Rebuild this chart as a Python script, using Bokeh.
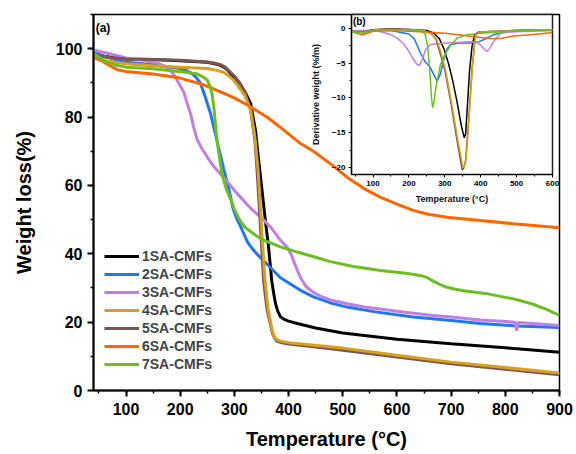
from bokeh.plotting import figure
from bokeh.models import Range1d, FixedTicker, Legend, LegendItem, Label
from bokeh.layouts import column
from bokeh.embed import file_html
from bokeh.resources import INLINE

FONT = "Liberation Sans"

labels = ["1SA-CMFs", "2SA-CMFs", "3SA-CMFs", "4SA-CMFs", "5SA-CMFs", "6SA-CMFs", "7SA-CMFs"]
colors = ["#000000", "#2277EE", "#BF7FE8", "#D6A21E", "#7E5555", "#FF6600", "#6BBF1F"]

# ---- main TGA curves: temperature (°C), weight (%) ----
t1 = [40, 60, 80, 100, 150, 200, 250, 270, 280, 287, 293, 300, 310, 320, 330, 339, 345, 351, 357, 363, 369, 373, 376, 380, 385, 392, 400, 416, 450, 500, 600, 700, 800, 900]
w1 = [98.5, 97.8, 97.3, 97.0, 96.8, 96.5, 96.0, 95.4, 94.7, 93.8, 92.7, 91.5, 89.8, 87.2, 84.0, 76.0, 67.0, 58.5, 50.0, 42.0, 32.0, 28.0, 25.4, 23.2, 21.6, 20.8, 20.3, 19.6, 18.3, 16.8, 15.0, 13.7, 12.5, 11.2]

t2 = [40, 60, 80, 100, 150, 200, 212, 222, 230, 237, 246, 256, 268, 280, 289, 298, 305, 310, 317, 324, 332, 340, 360, 385, 422, 446, 480, 508, 560, 630, 700, 754, 820, 900]
w2 = [99.0, 97.8, 96.8, 96.0, 95.3, 94.2, 93.6, 92.7, 91.5, 90.0, 86.0, 81.0, 73.0, 65.0, 59.5, 53.0, 50.0, 48.5, 46.0, 43.5, 41.7, 40.2, 37.0, 33.0, 29.3, 27.4, 25.5, 24.4, 23.0, 21.5, 20.5, 19.6, 18.9, 18.4]

t3 = [40, 70, 100, 130, 158, 172, 182, 190, 197, 206, 213, 219, 225, 231, 240, 250, 262, 274, 290, 305, 330, 350, 367, 385, 397, 405, 412, 422, 432, 440, 450, 460, 477, 508, 540, 600, 662, 700, 754, 818, 821, 824, 900]
w3 = [99.6, 98.5, 97.3, 96.6, 95.8, 94.8, 93.6, 92.0, 90.0, 87.5, 84.0, 81.0, 77.0, 73.5, 70.8, 68.3, 65.5, 63.4, 60.5, 57.6, 53.3, 50.5, 47.8, 44.0, 42.0, 39.8, 36.8, 33.0, 30.5, 29.4, 28.3, 27.5, 26.5, 25.4, 24.4, 23.2, 22.0, 21.5, 20.6, 20.0, 17.5, 19.9, 19.0]

t4 = [40, 60, 100, 150, 200, 250, 270, 282, 290, 298, 305, 312, 320, 330, 338, 344, 350, 356, 362, 368, 371, 374, 378, 382, 390, 400, 500, 600, 700, 800, 900]
w4 = [97.5, 96.5, 95.6, 95.0, 94.6, 94.2, 93.6, 92.9, 92.0, 90.9, 89.5, 87.9, 86.0, 82.0, 74.0, 64.0, 48.0, 33.0, 24.0, 19.0, 16.8, 15.6, 15.0, 14.6, 14.3, 14.0, 12.4, 10.3, 8.3, 6.7, 5.1]

t5 = [40, 60, 100, 150, 200, 250, 262, 275, 283, 290, 300, 310, 320, 330, 338, 342, 348, 354, 360, 366, 369, 372, 376, 380, 390, 400, 450, 500, 600, 700, 800, 900]
w5 = [98.3, 97.6, 97.0, 96.8, 96.6, 96.1, 95.8, 95.3, 94.6, 93.5, 92.0, 90.0, 87.0, 82.0, 73.0, 64.0, 48.0, 32.0, 24.0, 19.6, 17.5, 16.0, 14.9, 14.3, 13.9, 13.6, 12.7, 11.8, 9.8, 7.8, 6.2, 4.6]

t6 = [40, 55, 70, 85, 100, 150, 200, 240, 280, 300, 330, 360, 385, 420, 446, 480, 508, 540, 570, 600, 630, 660, 693, 754, 815, 900]
w6 = [97.5, 96.5, 95.0, 93.8, 93.3, 92.6, 91.4, 89.6, 87.0, 85.6, 83.0, 80.0, 77.0, 72.5, 70.0, 66.0, 62.4, 59.0, 56.5, 54.5, 52.7, 51.5, 50.7, 49.7, 48.8, 47.6]

t7 = [40, 60, 80, 100, 150, 206, 230, 243, 250, 256, 259, 262, 265, 268, 277, 285, 293, 300, 311, 320, 330, 340, 354, 385, 416, 450, 477, 520, 570, 620, 645, 656, 667, 680, 692, 708, 723, 770, 815, 850, 875, 900]
w7 = [98.5, 96.5, 95.2, 94.6, 94.1, 93.2, 92.7, 91.7, 90.8, 88.7, 86.5, 83.0, 78.0, 73.0, 63.4, 59.0, 56.0, 53.0, 49.5, 47.7, 46.5, 45.3, 44.0, 42.0, 40.5, 39.0, 37.7, 36.3, 35.1, 34.2, 33.6, 33.0, 32.0, 31.0, 30.2, 29.6, 29.2, 28.2, 26.8, 25.3, 23.8, 22.0]

# ---- inset DTG curves: temperature (°C), derivative weight (%/min) ----
dt1 = [40, 60, 80, 100, 150, 200, 250, 270, 285, 298, 310, 322, 335, 346, 354, 358, 363, 369, 376, 383, 395, 450, 500, 600]
dw1 = [-0.4, -0.5, -0.4, -0.2, -0.1, -0.15, -0.3, -0.7, -1.5, -3.0, -5.0, -7.5, -10.8, -14.0, -15.7, -15.2, -11.0, -6.0, -2.5, -0.9, -0.5, -0.4, -0.3, -0.2]

dt2 = [40, 80, 100, 150, 200, 215, 232, 245, 258, 268, 279, 288, 297, 306, 316, 340, 370, 390, 410, 436, 470, 520, 600]
dw2 = [-0.4, -0.4, -0.3, -0.3, -0.8, -1.5, -3.5, -4.8, -5.5, -6.5, -7.6, -6.5, -4.5, -3.0, -2.3, -2.1, -2.1, -2.0, -1.6, -0.9, -0.5, -0.35, -0.25]

dt3 = [40, 80, 110, 130, 150, 167, 185, 200, 212, 223, 230, 237, 247, 260, 306, 371, 390, 400, 410, 418, 426, 436, 455, 480, 600]
dw3 = [-0.3, -0.3, -0.35, -0.6, -0.9, -1.4, -2.2, -3.3, -4.4, -5.2, -5.3, -4.4, -3.0, -2.3, -2.1, -1.9, -2.0, -2.4, -3.0, -3.3, -2.8, -1.9, -0.7, -0.5, -0.3]

dt4 = [40, 60, 80, 100, 150, 200, 240, 260, 277, 290, 302, 318, 336, 350, 354, 360, 368, 377, 386, 395, 450, 500, 600]
dw4 = [-0.5, -0.6, -0.5, -0.3, -0.2, -0.2, -0.3, -0.7, -1.5, -3.6, -6.0, -10.4, -16.0, -19.8, -20.0, -18.5, -12.5, -5.5, -1.0, -0.5, -0.4, -0.3, -0.2]

dt5 = [40, 60, 80, 100, 150, 200, 240, 260, 275, 288, 300, 316, 334, 348, 352, 358, 367, 376, 385, 395, 450, 500, 600]
dw5 = [-0.4, -0.5, -0.4, -0.2, -0.1, -0.15, -0.3, -0.7, -1.5, -3.8, -6.0, -10.4, -16.1, -20.3, -20.2, -19.0, -12.8, -5.7, -1.0, -0.5, -0.4, -0.3, -0.2]

dt6 = [40, 55, 70, 85, 100, 150, 200, 250, 300, 350, 400, 436, 460, 491, 540, 600]
dw6 = [-0.5, -0.7, -0.9, -0.7, -0.4, -0.3, -0.4, -0.5, -0.7, -1.0, -1.3, -1.5, -1.4, -1.1, -0.9, -0.6]

dt7 = [40, 60, 75, 90, 110, 200, 230, 245, 252, 258, 263, 266, 270, 276, 288, 300, 315, 334, 362, 400, 450, 500, 600]
dw7 = [-0.5, -0.6, -0.7, -0.4, -0.2, -0.2, -0.3, -0.8, -2.5, -6.0, -10.0, -11.4, -10.5, -8.2, -5.2, -3.8, -2.5, -1.4, -0.9, -0.7, -0.5, -0.35, -0.2]

main_x_ticks = [100, 200, 300, 400, 500, 600, 700, 800, 900]
main_y_ticks = [0, 20, 40, 60, 80, 100]
inset_x_ticks = [100, 200, 300, 400, 500, 600]
inset_y_ticks = [0, -5, -10, -15, -20]

T = [t1, t2, t3, t4, t5, t6, t7]
W = [w1, w2, w3, w4, w5, w6, w7]
DT = [dt1, dt2, dt3, dt4, dt5, dt6, dt7]
DW = [dw1, dw2, dw3, dw4, dw5, dw6, dw7]

# ---------------- main figure ----------------
p = figure(width=576, height=454, output_backend="svg", toolbar_location=None,
           x_range=Range1d(40, 900), y_range=Range1d(0, 110),
           min_border_left=93, min_border_right=17, min_border_top=14, min_border_bottom=64)
p.xgrid.visible = False
p.ygrid.visible = False
p.outline_line_color = "black"
p.outline_line_width = 1.5
p.outline_line_alpha = 1

p.xaxis.ticker = FixedTicker(ticks=main_x_ticks, minor_ticks=list(range(50, 901, 50)))
p.yaxis.ticker = FixedTicker(ticks=main_y_ticks, minor_ticks=list(range(10, 111, 10)))
for ax in (p.xaxis[0], p.yaxis[0]):
    ax.axis_line_width = 2
    ax.major_tick_line_width = 2
    ax.minor_tick_line_width = 1.5
    ax.major_tick_in = 0
    ax.major_tick_out = 6
    ax.minor_tick_in = 0
    ax.minor_tick_out = 3
    ax.major_label_text_font = FONT
    ax.major_label_text_font_style = "bold"
    ax.major_label_text_font_size = "16px"
    ax.major_label_text_color = "black"
    ax.axis_label_text_font = FONT
    ax.axis_label_text_font_style = "bold"
    ax.axis_label_text_font_size = "20px"
    ax.axis_label_text_color = "black"
p.xaxis.axis_label = "Temperature (°C)"
p.yaxis.axis_label = "Weight loss(%)"
p.xaxis.major_label_standoff = 6
p.xaxis.axis_label_standoff = 10
p.yaxis.major_label_standoff = 5
p.yaxis.axis_label_standoff = 18

draw_order = [0, 1, 2, 4, 3, 5, 6]
rends = {}
for i in draw_order:
    rends[i] = p.line(T[i], W[i], line_color=colors[i], line_width=3)

legend = Legend(items=[LegendItem(label=labels[i], renderers=[rends[i]]) for i in range(7)],
                location=(6, 12), glyph_width=35, glyph_height=18, label_height=18,
                label_standoff=3, spacing=0, padding=5, margin=0,
                label_text_font=FONT, label_text_font_style="bold", label_text_font_size="14px",
                border_line_alpha=0, background_fill_alpha=1)
p.add_layout(legend)

p.add_layout(Label(x=44, y=106, text="(a)", text_font=FONT, text_font_style="bold",
                   text_font_size="12px", text_baseline="middle", text_color="black"))

# ---------------- inset figure (overlaid via negative top margin) ----------------
# note: the column aligns frame borders (left -> 93, right -> 17)
q = figure(width=311, height=212, output_backend="svg", toolbar_location=None,
           x_range=Range1d(40, 600), y_range=Range1d(-21, 2),
           min_border_left=51, min_border_right=10, min_border_top=14, min_border_bottom=38)
q.border_fill_alpha = 0
q.background_fill_color = "white"
q.xgrid.visible = False
q.ygrid.visible = False
q.outline_line_color = "#222222"
q.outline_line_width = 1.5
q.outline_line_alpha = 1
q.xaxis.ticker = FixedTicker(ticks=inset_x_ticks, minor_ticks=list(range(50, 601, 50)))
q.yaxis.ticker = FixedTicker(ticks=inset_y_ticks, minor_ticks=[-20, -17.5, -15, -12.5, -10, -7.5, -5, -2.5, 0])
for ax in (q.xaxis[0], q.yaxis[0]):
    ax.axis_line_width = 1.2
    ax.major_tick_in = 0
    ax.major_tick_out = 3
    ax.minor_tick_in = 0
    ax.minor_tick_out = 2
    ax.major_label_text_font = FONT
    ax.major_label_text_font_style = "bold"
    ax.major_label_text_font_size = "8px"
    ax.major_label_text_color = "black"
    ax.axis_label_text_font = FONT
    ax.axis_label_text_font_style = "bold"
    ax.axis_label_text_font_size = "9px"
    ax.axis_label_text_color = "#111111"
q.xaxis.axis_label = "Temperature (°C)"
q.yaxis.axis_label = "Derivative weight (%/m)"
q.xaxis.major_label_standoff = 3
q.xaxis.axis_label_standoff = 5
q.yaxis.major_label_standoff = 3
q.yaxis.axis_label_standoff = 8

for i in draw_order:
    q.line(DT[i], DW[i], line_color=colors[i], line_width=1.5)

q.add_layout(Label(x=44, y=1.0, text="(b)", text_font=FONT, text_font_style="bold",
                   text_font_size="10px", text_baseline="middle", text_color="black"))

q.margin = (-454, 0, 0, 258)
layout = column(p, q, spacing=0)

open("out.html", "w").write(file_html(layout, INLINE))
